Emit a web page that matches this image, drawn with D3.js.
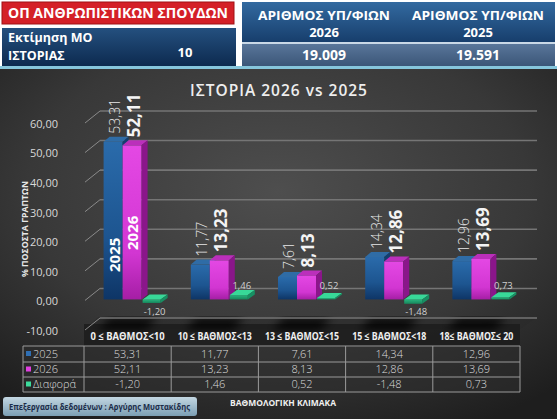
<!DOCTYPE html>
<html>
<head>
<meta charset="utf-8">
<script src="https://cdn.jsdelivr.net/npm/d3@7"></script>
<style>
body{margin:0;background:#fff}
svg{display:block}
text{font-family:"Open Sans","Noto Sans",sans-serif}
</style>
</head>
<body>
<div id="chart"></div>
<script>
// dati
var categories = ["0 ≤ ΒΑΘΜΟΣ<10", "10 ≤ ΒΑΘΜΟΣ<13", "13 ≤ ΒΑΘΜΟΣ<15", "15 ≤ ΒΑΘΜΟΣ<18", "18≤ ΒΑΘΜΟΣ≤ 20"];
var values2025 = [53.31, 11.77, 7.61, 14.34, 12.96];
var values2026 = [52.11, 13.23, 8.13, 12.86, 13.69];
var diffs = [-1.20, 1.46, 0.52, -1.48, 0.73];
var yTicks = [-10, 0, 10, 20, 30, 40, 50, 60];
var seriesNames = ["2025", "2026", "Διαφορά"];
var headerTitles = ["2026", "2025"];
var headerValues = ["19.009", "19.591"];

var W = 557, H = 419;
var gr = d3.formatLocale({decimal: ",", thousands: ".", grouping: [3], currency: ["", "€"], minus: "-"});
var fmt = gr.format(".2f");

var svg = d3.select("#chart").append("svg")
  .attr("width", W).attr("height", H);
var defs = svg.append("defs");

function linGrad(id, stops, vertical) {
  var g = defs.append("linearGradient").attr("id", id)
    .attr("x1", 0).attr("y1", 0).attr("x2", vertical ? 0 : 1).attr("y2", vertical ? 1 : 0);
  stops.forEach(function (s) { g.append("stop").attr("offset", s[0]).attr("stop-color", s[1]); });
}
var bg = defs.append("radialGradient").attr("id", "bg").attr("cx", "0.5").attr("cy", "0.35").attr("r", "0.75");
bg.append("stop").attr("offset", 0).attr("stop-color", "#4e4e4e");
bg.append("stop").attr("offset", 0.6).attr("stop-color", "#383838");
bg.append("stop").attr("offset", 1).attr("stop-color", "#1e1e1e");
linGrad("blueFront", [[0, "#2a6bab"], [0.6, "#1d5590"], [1, "#0e3566"]], true);
linGrad("magFront", [[0, "#e448e4"], [0.7, "#d236d2"], [1, "#a51ea5"]], true);
linGrad("greenFront", [[0, "#28b57e"], [1, "#17875c"]], true);
linGrad("hdrBlue", [[0, "#336aa0"], [1, "#173e6c"]], true);
linGrad("hdrLeft", [[0, "#24507f"], [1, "#0d2a4f"]], true);
linGrad("hdrVal", [[0, "#59769a"], [1, "#3b5678"]], true);
linGrad("btn", [[0, "#c3d7e2"], [1, "#7c9fb4"]], true);
defs.append("filter").attr("id", "blur").append("feGaussianBlur").attr("stdDeviation", 4);

// sfondo scuro del grafico
svg.append("rect").attr("x", 0).attr("y", 69).attr("width", W).attr("height", H - 69).attr("fill", "url(#bg)");
svg.append("rect").attr("x", 0).attr("y", 66).attr("width", W).attr("height", 3).attr("fill", "#86c6dc");

// intestazione
svg.append("rect").attr("x", 2).attr("y", 2).attr("width", 232).attr("height", 22).attr("fill", "#d42027").attr("stroke", "#a01015");
svg.append("text").attr("x", 8).attr("y", 18)
  .attr("textLength", 220).attr("lengthAdjust", "spacingAndGlyphs")
  .style("font-size", "13.5px").style("font-weight", "bold").attr("fill", "#fff")
  .text("ΟΠ ΑΝΘΡΩΠΙΣΤΙΚΩΝ ΣΠΟΥΔΩΝ");
svg.append("rect").attr("x", 2).attr("y", 28).attr("width", 234).attr("height", 38).attr("fill", "url(#hdrLeft)");
svg.append("text").attr("x", 8).attr("y", 42).style("font-size", "12.5px").style("font-weight", "bold").attr("fill", "#fff").text("Εκτίμηση ΜΟ");
svg.append("text").attr("x", 8).attr("y", 60).style("font-size", "12.5px").style("font-weight", "bold").attr("fill", "#fff").text("ΙΣΤΟΡΙΑΣ");
svg.append("text").attr("x", 185).attr("y", 57).attr("text-anchor", "middle").style("font-size", "13px").style("font-weight", "bold").attr("fill", "#fff").text("10");

svg.append("rect").attr("x", 242).attr("y", 2).attr("width", 313).attr("height", 40).attr("fill", "url(#hdrBlue)");
svg.append("rect").attr("x", 242).attr("y", 42).attr("width", 313).attr("height", 2).attr("fill", "#c9d8e6");
svg.append("rect").attr("x", 242).attr("y", 44).attr("width", 313).attr("height", 22).attr("fill", "url(#hdrVal)");
var hdrX = [324, 478];
headerTitles.forEach(function (t, i) {
  svg.append("text").attr("x", hdrX[i] - 66).attr("y", 20)
    .attr("textLength", 132).attr("lengthAdjust", "spacingAndGlyphs")
    .style("font-size", "13px").style("font-weight", "bold").attr("fill", "#fff").text("ΑΡΙΘΜΟΣ ΥΠ/ΦΙΩΝ");
  svg.append("text").attr("x", hdrX[i]).attr("y", 37).attr("text-anchor", "middle")
    .style("font-size", "13px").style("font-weight", "bold").attr("fill", "#fff").text(t);
  svg.append("text").attr("x", hdrX[i]).attr("y", 60).attr("text-anchor", "middle")
    .style("font-size", "14px").style("font-weight", "bold").attr("fill", "#fff").text(headerValues[i]);
});

// titolo
svg.append("text").attr("x", 279).attr("y", 96).attr("text-anchor", "middle")
  .style("font-size", "15.5px").style("letter-spacing", "1px").style("font-weight", "600").attr("fill", "#eee")
  .text("ΙΣΤΟΡΙΑ 2026 vs 2025");

// scale
var x = d3.scaleBand().domain(categories).range([84, 520]);
var y = d3.scaleLinear().domain([-10, 60]).range([329, 122]);
var wdx = 15, wdy = -12;   // profondita della parete
var bdx = 6, bdy = -5;     // profondita delle barre

// pavimento e ombre
var fy = y(-10);
svg.append("path")
  .attr("d", "M84," + fy + " L" + (84 + wdx) + "," + (fy + wdy) + " L" + (537) + "," + (fy + wdy) + " L" + (520) + "," + fy + "Z")
  .attr("fill", "#2a2a2a").attr("opacity", 0.6);
svg.append("rect").attr("x", 84).attr("y", 324).attr("width", 436).attr("height", 23).attr("fill", "#1c1c1c").attr("opacity", 0.85);
var sh = svg.append("g").attr("filter", "url(#blur)");
categories.forEach(function (c) {
  var cx = x(c) + x.bandwidth() / 2;
  sh.append("path").attr("d", "M" + (cx - 30) + ",330 L" + (cx - 18) + ",318 L" + (cx + 30) + ",318 L" + (cx + 18) + ",330Z")
    .attr("fill", "#000").attr("opacity", 0.8);
});

// griglia
var grid = svg.append("g");
yTicks.forEach(function (t) {
  grid.append("line").attr("x1", 85).attr("y1", y(t) + 1).attr("x2", 85 + wdx).attr("y2", y(t) + 1 + wdy)
    .attr("stroke", "#8a8a8a").attr("stroke-width", 1);
  grid.append("line").attr("x1", 85 + wdx).attr("y1", y(t) + 1 + wdy).attr("x2", 537).attr("y2", y(t) + 1 + wdy)
    .attr("stroke", "#757575").attr("stroke-width", 1.6);
  grid.append("text").attr("x", 58).attr("y", y(t) + 2).attr("dy", "0.35em").attr("text-anchor", "end")
    .style("font-size", "11px").attr("fill", "#d8d8d8").text(fmt(t));
});

svg.append("text").attr("transform", "translate(28,229) rotate(-90)").attr("text-anchor", "middle")
  .attr("textLength", 96).attr("lengthAdjust", "spacingAndGlyphs")
  .style("font-size", "8.5px").style("font-weight", "bold").attr("fill", "#e8e8e8").text("% ΠΟΣΟΣΤΑ ΓΡΑΠΤΩΝ");

// barre 3D
function bar3d(g, x0, w, v, front, top, side, dx, dy) {
  var y0 = y(0), yv = y(v);
  var yt = Math.min(y0, yv), yb = Math.max(y0, yv);
  g.append("rect").attr("x", x0).attr("y", yt).attr("width", w).attr("height", Math.max(yb - yt, 0.5)).attr("fill", front);
  g.append("path").attr("d", "M" + x0 + "," + yt + " L" + (x0 + dx) + "," + (yt + dy) + " L" + (x0 + w + dx) + "," + (yt + dy) + " L" + (x0 + w) + "," + yt + "Z").attr("fill", top);
  g.append("path").attr("d", "M" + (x0 + w) + "," + yt + " L" + (x0 + w + dx) + "," + (yt + dy) + " L" + (x0 + w + dx) + "," + (yb + dy) + " L" + (x0 + w) + "," + yb + "Z").attr("fill", side);
}

var bars = svg.append("g");
categories.forEach(function (c, i) {
  var cx = x(c) + x.bandwidth() / 2;
  var g = bars.append("g");
  bar3d(g, cx - 24, 19, values2025[i], "url(#blueFront)", "#2f6ca6", "#123e70", bdx, bdy);
  bar3d(g, cx - 5, 19, values2026[i], "url(#magFront)", "#bb2fbb", "#8a168a", bdx, bdy);
  bar3d(g, cx + 15, 18, diffs[i], "url(#greenFront)", "#38d898", "#179063", 7, -5);

  // etichette ruotate
  var yb = y(values2025[i]) + bdy - 3;
  g.append("text").attr("transform", "translate(" + (cx - 14.5 + 2) + "," + yb + ") rotate(-90)").attr("dy", "0.35em")
    .style("font-size", "14px").style("font-weight", "300").attr("fill", "#e6e6e6").text(fmt(values2025[i]));
  var ym = y(values2026[i]) + bdy - 3;
  g.append("text").attr("transform", "translate(" + (cx + 4.5 + 2) + "," + ym + ") rotate(-90)").attr("dy", "0.35em")
    .style("font-size", "17px").style("font-weight", "bold").attr("fill", "#f4f4f4").text(fmt(values2026[i]));
  var gx = cx + 15 + 9 + 3;
  g.append("text").attr("x", gx).attr("y", diffs[i] < 0 ? y(0) + 12 : y(0) - 14).attr("dy", "0.35em").attr("text-anchor", "middle")
    .style("font-size", "9.5px").attr("fill", "#cfcfcf").text(fmt(diffs[i]));
  if (i === 0) {
    g.append("text").attr("transform", "translate(" + (cx - 13) + ",272) rotate(-90)").attr("dy", "0.35em")
      .style("font-size", "15px").style("font-weight", "bold").attr("fill", "#fff").text(seriesNames[0]);
    g.append("text").attr("transform", "translate(" + (cx + 5) + ",250) rotate(-90)").attr("dy", "0.35em")
      .style("font-size", "15px").style("font-weight", "bold").attr("fill", "#fff").text(seriesNames[1]);
  }
  // categorie
  svg.append("text").attr("x", cx - 37).attr("y", 336).attr("dy", "0.35em")
    .attr("textLength", 74).attr("lengthAdjust", "spacingAndGlyphs")
    .style("font-size", "10.5px").style("font-weight", "bold").attr("fill", "#f0f0f0").text(c);
});

// tabella dati
var rows = [values2025, values2026, diffs];
var legendColors = ["#2f6fb4", "#e040e0", "#3cdc9c"];
var rowY = [346, 362, 377, 392];
var tbl = svg.append("g");
tbl.append("rect").attr("x", 23).attr("y", rowY[0]).attr("width", 520 - 23).attr("height", rowY[3] - rowY[0])
  .attr("fill", "#2e2e2e").attr("fill-opacity", 0.5);
rowY.forEach(function (ry) {
  tbl.append("line").attr("x1", 23).attr("x2", 520).attr("y1", ry).attr("y2", ry).attr("stroke", "#9a9a9a");
});
[23, 84].concat(categories.map(function (c) { return x(c) + x.bandwidth(); })).forEach(function (cxl) {
  tbl.append("line").attr("x1", cxl).attr("x2", cxl).attr("y1", rowY[0]).attr("y2", rowY[3]).attr("stroke", "#9a9a9a");
});
rows.forEach(function (r, ri) {
  var cy = (rowY[ri] + rowY[ri + 1]) / 2;
  tbl.append("rect").attr("x", 26).attr("y", cy - 3).attr("width", 5).attr("height", 5).attr("fill", legendColors[ri]);
  tbl.append("text").attr("x", 33).attr("y", cy).attr("dy", "0.33em").style("font-size", "11px").style("font-weight", "300")
    .attr("fill", "#dcdcdc").text(seriesNames[ri]);
  r.forEach(function (v, ci) {
    tbl.append("text").attr("x", x(categories[ci]) + x.bandwidth() / 2).attr("y", cy).attr("dy", "0.33em").attr("text-anchor", "middle")
      .style("font-size", "11px").style("font-weight", "300").attr("fill", "#dcdcdc").text(fmt(v));
  });
});

svg.append("text").attr("x", 230).attr("y", 403).attr("dy", "0.35em")
  .attr("textLength", 106).attr("lengthAdjust", "spacingAndGlyphs")
  .style("font-size", "9.5px").style("font-weight", "bold").attr("fill", "#f0f0f0").text("ΒΑΘΜΟΛΟΓΙΚΗ ΚΛΙΜΑΚΑ");

// pulsante in basso
svg.append("rect").attr("x", 3).attr("y", 397).attr("width", 194).attr("height", 19).attr("rx", 3).attr("fill", "url(#btn)");
svg.append("text").attr("x", 9).attr("y", 407).attr("dy", "0.35em")
  .attr("textLength", 181).attr("lengthAdjust", "spacingAndGlyphs")
  .style("font-size", "8.5px").style("font-weight", "bold").attr("fill", "#1b2c48").text("Επεξεργασία δεδομένων : Αργύρης Μυστακίδης");
</script>
</body>
</html>
